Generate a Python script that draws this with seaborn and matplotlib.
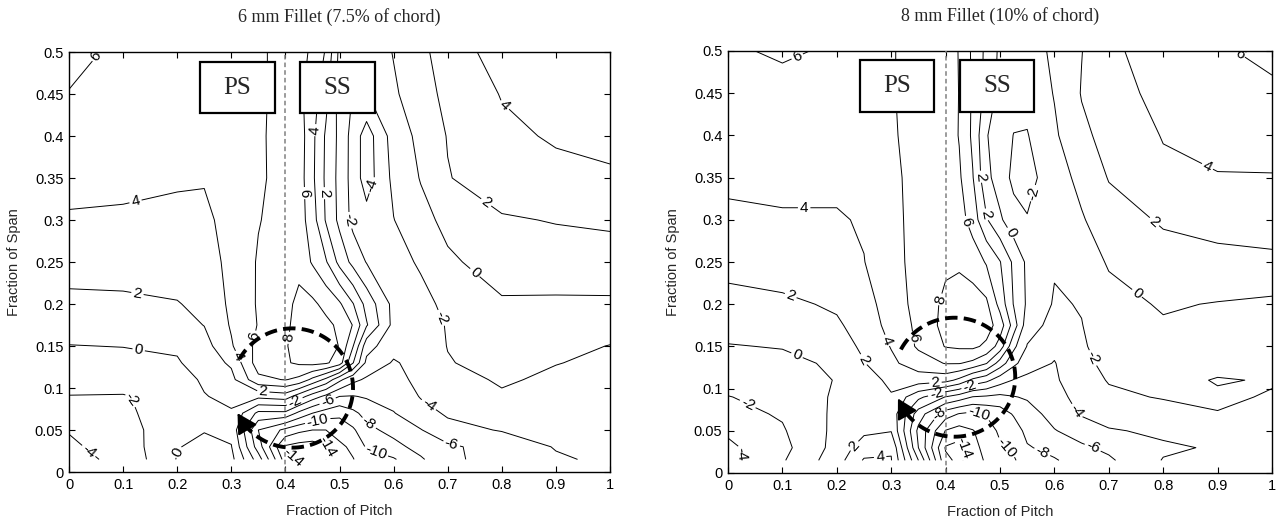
import numpy as np
import matplotlib
matplotlib.use("Agg")
import matplotlib.pyplot as plt
import seaborn as sns

# measurement grid: pitch stations and span heights (top of passage first)
pitch = [0, 0.1, 0.2, 0.25, 0.3, 0.35, 0.4, 0.425, 0.45, 0.475, 0.5,
         0.525, 0.55, 0.6, 0.65, 0.7, 0.8, 0.9, 1.0]
span = [0.5, 0.45, 0.4, 0.35, 0.3, 0.25, 0.2, 0.175, 0.15, 0.13, 0.11,
        0.09, 0.07, 0.05, 0.03, 0.015]

# one list per pitch station, values read along span from 0.5 down to the endwall
fillet_6mm = [
    [6.4, 5.95, 5.3, 4.6, 3.8, 2.7, 1.6, 0.8, -0.05, -0.7, -1.35, -2.05, -2.9, -3.9, -4.3, -4.5],
    [5.7, 5.5, 5.1, 4.5, 3.7, 2.9, 1.6, 0.9, 0.05, -0.6, -1.3, -2.1, -2.4, -2.8, -3.2, -3.6],
    [5.4, 5.2, 5.0, 4.2, 3.6, 3.0, 1.9, 1.2, 0.3, -0.2, -0.9, -1.4, -0.9, -0.7, -0.1, 0.1],
    [5.4, 5.2, 5.0, 4.1, 3.7, 3.5, 2.5, 2.05, 1.2, 1.0, 0.3, -0.1, -0.6, -0.1, 0.5, 0.7],
    [5.6, 5.5, 5.3, 4.8, 4.5, 4.3, 4.4, 4.2, 3.8, 2.3, 1.4, 0.5, -0.2, -0.6, 0.1, 0.6],
    [5.5, 5.5, 5.6, 5.6, 5.9, 6.2, 6.2, 6.1, 6.6, 7.0, 5.5, 0.5, -4.5, -8.0, -7.0, -5.0],
    [7.0, 7.0, 7.0, 6.9, 6.8, 7.2, 7.3, 7.6, 7.8, 7.8, 6.1, 1.0, -4.5, -10.5, -14.3, -13.0],
    [6.6, 6.5, 7.1, 7.0, 7.0, 7.3, 8.6, 8.7, 8.9, 8.3, 5.5, -1.0, -6.5, -11.5, -14.8, -14.2],
    [5.7, 5.0, 4.5, 4.4, 4.9, 5.8, 8.4, 9.0, 9.3, 8.6, 3.5, -3.0, -8.0, -12.0, -15.0, -14.6],
    [3.8, 2.6, 1.7, 1.6, 1.8, 4.2, 7.4, 8.5, 9.0, 8.3, 1.5, -4.5, -9.0, -12.0, -14.2, -14.0],
    [-0.5, -0.8, -0.5, -0.6, -0.5, 1.4, 6.3, 7.6, 7.9, 7.0, -1.5, -6.0, -9.6, -11.0, -12.5, -13.0],
    [-1.2, -2.1, -2.8, -2.8, -2.6, -0.6, 4.1, 5.9, 4.1, 2.1, -3.5, -6.1, -8.5, -10.3, -11.5, -12.1],
    [-1.4, -2.1, -5.0, -5.0, -3.2, -2.1, 1.3, 2.2, -1.2, -2.5, -4.3, -5.8, -7.3, -8.6, -9.8, -10.8],
    [0.1, -0.3, -1.1, -1.5, -2.05, -2.6, -2.6, -2.6, -3.3, -4.2, -4.5, -5.2, -6.1, -7.3, -8.7, -10.2],
    [1.6, 1.2, 0.5, 0.1, -0.6, -1.8, -2.5, -2.7, -3.0, -3.3, -3.6, -3.9, -4.6, -6.1, -7.2, -8.3],
    [2.8, 2.5, 2.1, 1.9, 0.5, -0.3, -1.6, -1.9, -1.95, -2.1, -2.6, -3.1, -3.8, -4.5, -6.4, -6.3],
    [5.0, 4.1, 3.6, 3.1, 1.8, 0.8, -0.2, -0.6, -1.0, -1.4, -1.8, -2.2, -2.9, -3.9, -5.0, -5.4],
    [5.2, 4.8, 4.2, 3.5, 2.1, 1.1, -0.3, -0.9, -1.5, -1.95, -2.3, -2.6, -3.0, -3.4, -3.9, -4.2],
    [5.2, 5.0, 4.4, 3.8, 2.3, 1.2, -0.3, -1.2, -2.05, -2.3, -2.6, -2.8, -3.0, -3.2, -3.5, -3.7],
]

fillet_8mm = [
    [5.8, 5.6, 5.0, 4.4, 3.6, 2.6, 1.4, 0.7, -0.1, -0.7, -1.4, -2.05, -2.6, -3.7, -4.4, -4.6],
    [6.2, 5.5, 5.0, 4.5, 3.8, 2.8, 1.7, 0.9, 0.1, -0.5, -1.1, -1.5, -1.8, -2.2, -2.6, -2.2],
    [5.8, 5.4, 5.0, 4.5, 3.8, 3.0, 2.2, 1.8, 1.0, 0.3, 0.1, 0.3, 0.4, 0.5, 0.7, 1.1],
    [5.8, 5.6, 5.2, 4.6, 4.2, 3.95, 3.0, 2.6, 2.4, 1.9, 1.0, 0.6, 0.5, 1.6, 3.0, 4.2],
    [5.9, 5.9, 5.8, 5.6, 5.5, 5.4, 5.2, 4.8, 4.1, 3.6, 2.5, 1.8, 1.3, 1.9, 3.8, 4.1],
    [6.5, 6.5, 6.6, 6.6, 6.6, 6.6, 6.5, 6.4, 6.3, 5.0, 3.0, -1.5, -5.0, -6.5, -6.0, -4.0],
    [7.0, 7.0, 7.1, 7.1, 7.2, 7.6, 8.5, 8.7, 8.1, 6.1, 2.7, -4.1, -9.1, -12.1, -14.2, -13.5],
    [5.9, 5.95, 5.9, 6.3, 6.9, 7.7, 8.9, 9.2, 8.3, 6.1, 1.5, -5.0, -10.1, -12.8, -14.8, -14.5],
    [3.6, 3.7, 3.6, 4.1, 5.1, 7.2, 8.8, 9.3, 8.4, 5.5, -0.5, -6.1, -10.5, -12.1, -12.5, -12.7],
    [1.5, 1.3, 0.1, 0.5, 2.2, 5.8, 8.4, 8.9, 7.6, 4.1, -1.5, -6.3, -9.8, -11.1, -11.5, -11.8],
    [-0.4, -0.6, -0.8, -0.9, 0.3, 4.1, 5.3, 7.1, 5.1, 1.1, -3.1, -6.5, -9.1, -9.6, -10.3, -10.6],
    [-0.9, -1.2, -2.05, -2.5, -1.2, 1.6, 1.9, 3.1, 0.5, -1.5, -4.1, -6.1, -7.8, -9.1, -9.7, -10.2],
    [-1.0, -1.4, -2.1, -2.6, -1.9, -0.4, -0.3, -1.2, -2.1, -3.1, -4.5, -5.8, -6.8, -7.4, -8.2, -9.1],
    [0.4, 0.1, -0.3, -1.0, -1.4, -1.8, -2.2, -2.6, -3.5, -4.1, -4.3, -4.8, -5.3, -6.1, -7.3, -8.2],
    [1.95, 2.1, 1.6, 0.6, -0.2, -1.1, -1.9, -2.05, -2.2, -2.4, -2.7, -3.2, -3.8, -5.2, -6.3, -7.0],
    [3.5, 3.2, 2.6, 2.1, 1.2, 0.2, -0.7, -1.0, -1.3, -1.6, -1.9, -2.3, -3.0, -4.2, -5.6, -6.3],
    [5.2, 4.6, 4.1, 3.6, 2.2, 1.3, 0.2, -0.2, -0.7, -1.1, -1.5, -1.9, -2.6, -3.6, -4.3, -3.9],
    [5.8, 5.3, 4.6, 3.9, 2.5, 1.6, -0.1, -0.6, -1.0, -1.5, -2.1, -1.8, -2.05, -2.9, -3.8, -3.7],
    [6.4, 5.7, 4.8, 3.9, 2.7, 1.7, -0.4, -0.8, -1.2, -1.6, -1.9, -2.1, -2.5, -2.9, -3.2, -3.4],
]

levels = list(range(-14, 10, 2))
titles = ["6 mm Fillet (7.5% of chord)", "8 mm Fillet (10% of chord)"]

# where the contour labels sit
labels_6mm = [(0.06, 0.49), (0.12, 0.33), (0.13, 0.225), (0.13, 0.15), (0.13, 0.09),
              (0.05, 0.035), (0.196, 0.026), (0.31, 0.137), (0.353, 0.16), (0.403, 0.16),
              (0.359, 0.095), (0.418, 0.083), (0.477, 0.086), (0.46, 0.06), (0.49, 0.03),
              (0.418, 0.02), (0.556, 0.06), (0.566, 0.022), (0.708, 0.036), (0.658, 0.074),
              (0.686, 0.183), (0.747, 0.235), (0.77, 0.32), (0.81, 0.44), (0.566, 0.34),
              (0.455, 0.407), (0.433, 0.332), (0.477, 0.332), (0.51, 0.298)]
labels_8mm = [(0.132, 0.487), (0.14, 0.32), (0.114, 0.208), (0.132, 0.147), (0.031, 0.075),
              (0.04, 0.024), (0.224, 0.037), (0.279, 0.024), (0.248, 0.134), (0.292, 0.157),
              (0.335, 0.16), (0.377, 0.208), (0.381, 0.11), (0.384, 0.092), (0.39, 0.069),
              (0.445, 0.102), (0.463, 0.075), (0.44, 0.031), (0.506, 0.027), (0.577, 0.024),
              (0.634, 0.071), (0.675, 0.037), (0.662, 0.134), (0.752, 0.213), (0.77, 0.288),
              (0.882, 0.364), (0.941, 0.497), (0.564, 0.331), (0.463, 0.351), (0.472, 0.306),
              (0.436, 0.297), (0.518, 0.284)]

# vortex marker (centre, radii, start/end angle, arrow tip angle) and PS/SS boxes
vortex = [dict(c=(0.413, 0.100), r=(0.112, 0.071), start=151, end=-144, tip=-155),
          dict(c=(0.4165, 0.1135), r=(0.1115, 0.0705), start=153, end=-144, tip=-159)]
boxes = [[("PS", 0.242, 0.427, 0.139, 0.061), ("SS", 0.427, 0.427, 0.139, 0.061)],
         [("PS", 0.243, 0.428, 0.136, 0.061), ("SS", 0.426, 0.428, 0.1365, 0.061)]]

sns.set_style("ticks", {"xtick.direction": "in", "ytick.direction": "in"})
plt.rcParams["font.family"] = ["Liberation Sans", "DejaVu Sans"]

fig = plt.figure(figsize=(12.82, 5.22), dpi=100)
axes = [fig.add_axes([69 / 1282, 50 / 522, 541 / 1282, 420 / 522]),
        fig.add_axes([728 / 1282, 49 / 522, 544 / 1282, 422 / 522])]

X, Y = np.meshgrid(pitch, span)
for ax, values, lab_pos, title, vx, bx in zip(axes, [fillet_6mm, fillet_8mm],
                                              [labels_6mm, labels_8mm], titles, vortex, boxes):
    Z = np.array(values).T
    cs = ax.contour(X, Y, Z, levels=levels, colors="black", linewidths=0.7,
                    linestyles="solid")
    ax.clabel(cs, manual=lab_pos, inline=True, fontsize=11,
              fmt=lambda v: f"{v:g}", inline_spacing=2)

    ax.axvline(0.4, color="#808080", lw=1.1, ls=(0, (3, 2)), zorder=3)

    for txt, x0, y0, w, h in bx:
        ax.add_patch(plt.Rectangle((x0, y0), w, h, facecolor="white", edgecolor="black",
                                   lw=1.6, zorder=6))
        ax.text(x0 + w / 2, y0 + h / 2, txt, ha="center", va="center", fontsize=18,
                family=["Liberation Serif"], zorder=7)

    cx, cy = vx["c"]
    rx, ry = vx["r"]
    t = np.radians(np.linspace(vx["end"], vx["start"], 200))
    ax.plot(cx + rx * np.cos(t), cy + ry * np.sin(t), color="black", lw=2.8,
            ls=(0, (3.2, 1.6)), zorder=8)
    tb, tt = np.radians(vx["end"]), np.radians(vx["tip"])
    ax.annotate("", xy=(cx + rx * np.cos(tt), cy + ry * np.sin(tt)),
                xytext=(cx + rx * np.cos(tb), cy + ry * np.sin(tb)),
                arrowprops=dict(arrowstyle="-|>,head_length=0.5,head_width=0.28",
                                mutation_scale=24, color="black", lw=1.5,
                                shrinkA=0, shrinkB=0), zorder=9)

    ax.set_xlim(0, 1)
    ax.set_ylim(0, 0.5)
    ax.set_xticks(np.round(np.arange(0, 1.01, 0.1), 2))
    ax.set_xticklabels([f"{v:g}" for v in np.round(np.arange(0, 1.01, 0.1), 2)])
    ax.set_yticks(np.round(np.arange(0, 0.501, 0.05), 2))
    ax.set_yticklabels([f"{v:g}" for v in np.round(np.arange(0, 0.501, 0.05), 2)])
    ax.tick_params(direction="in", top=True, right=True, length=4, width=0.8,
                   labelsize=10.5, colors="black", pad=4)
    for sp in ax.spines.values():
        sp.set_color("black")
        sp.set_linewidth(1.0)
    ax.set_xlabel("Fraction of Pitch", fontsize=10.5, labelpad=9)
    ax.set_ylabel("Fraction of Span", fontsize=10.5, labelpad=10)
    ax.set_title(title, fontsize=13, family=["Liberation Serif"], pad=22)

fig.savefig("out.png", dpi=100, facecolor="white")
